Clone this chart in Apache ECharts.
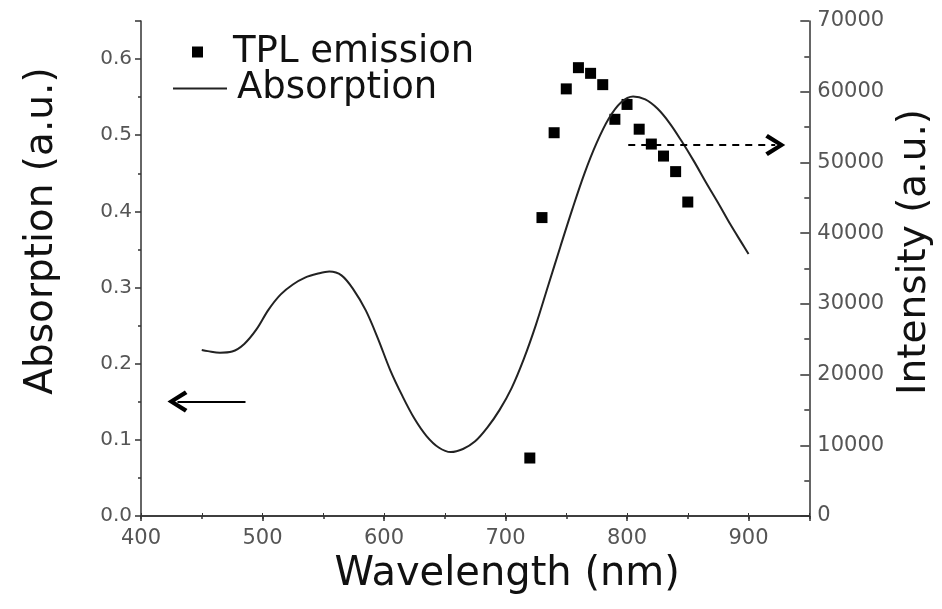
<!DOCTYPE html>
<html>
<head>
<meta charset="utf-8">
<script src="https://cdn.jsdelivr.net/npm/echarts@6/dist/echarts.min.js"></script>
<style>html,body{margin:0;padding:0;background:#fff}#c{width:942px;height:609px}</style>
</head>
<body>
<div id="c"></div>
<script>
// ---- data ----
const tplWavelength = [720, 730, 740, 750, 760, 770, 780, 790, 800, 810, 820, 830, 840, 850];
const tplIntensity = [8200, 42200, 54200, 60400, 63400, 62600, 61000, 56100, 58200, 54700, 52600, 50900, 48700, 44400];
const absWavelength = [450, 455, 465, 475, 485, 495, 505, 515, 525, 535, 545, 555, 565, 575, 585, 595, 605, 615, 625, 635, 645, 655, 665, 675, 685, 695, 705, 715, 725, 735, 745, 755, 765, 775, 785, 795, 805, 815, 825, 835, 845, 855, 865, 875, 885, 895, 900];
const absValue = [0.218, 0.2165, 0.2145, 0.216, 0.226, 0.245, 0.271, 0.291, 0.304, 0.313, 0.318, 0.321, 0.316, 0.297, 0.270, 0.233, 0.192, 0.158, 0.128, 0.105, 0.090, 0.084, 0.088, 0.098, 0.116, 0.139, 0.168, 0.206, 0.251, 0.302, 0.353, 0.403, 0.450, 0.490, 0.522, 0.543, 0.551, 0.547, 0.535, 0.516, 0.492, 0.466, 0.438, 0.411, 0.383, 0.357, 0.344];
const xTickLabels = [400, 500, 600, 700, 800, 900];
const leftTickLabels = ['0.0', '0.1', '0.2', '0.3', '0.4', '0.5', '0.6'];
const rightTickLabels = ['0', '10000', '20000', '30000', '40000', '50000', '60000', '70000'];
// annotation arrows (data coordinates)
const leftArrow = [[486, 0.1505], [430, 0.1505]];
const rightArrow = [[801, 52450], [922, 52450]];

const font = 'DejaVu Sans';
const axisColor = '#333';
const labelColor = '#555';
const chevron = 'path://M11,0 L22,17 L18.5,19.5 L11,7.5 L3.5,19.5 L0,17 Z';

const hidden = {show: false};
function tickOnlyAxis(base) {
  return Object.assign({type: 'value', axisLine: hidden, axisLabel: hidden, splitLine: hidden}, base);
}

const chart = echarts.init(document.getElementById('c'), null, {renderer: 'canvas'});
chart.setOption({
  animation: false,
  backgroundColor: '#fff',
  grid: {left: 141, right: 128, top: 21, bottom: 93, containLabel: false},
  legend: [
    {
      data: [{name: 'TPL emission', icon: 'rect'}],
      left: 192, top: 27, padding: 0, itemWidth: 11, itemHeight: 11,
      selectedMode: false,
      textStyle: {fontFamily: font, fontSize: 37, color: '#111', lineHeight: 40, padding: [0, 0, 10, 25]}
    },
    {
      data: [{name: 'Absorption', icon: 'rect', itemStyle: {color: '#222'}}],
      left: 173, top: 62, padding: 0, itemWidth: 54, itemHeight: 2,
      selectedMode: false,
      textStyle: {fontFamily: font, fontSize: 37, color: '#111', lineHeight: 40, padding: [0, 0, 13, 5]}
    }
  ],
  xAxis: [
    {
      type: 'value', min: 400, max: 950, interval: 100, position: 'bottom',
      name: 'Wavelength (nm)', nameLocation: 'middle', nameGap: 39,
      nameTextStyle: {fontFamily: font, fontSize: 40, color: '#111', padding: [0, 0, 0, 64]},
      axisLine: {lineStyle: {color: axisColor, width: 1.5}},
      axisTick: {length: 5, lineStyle: {color: axisColor, width: 1.5}},
      axisLabel: {
        fontFamily: font, fontSize: 21, color: labelColor, margin: 12,
        formatter: v => xTickLabels.indexOf(v) >= 0 ? String(v) : ''
      },
      splitLine: hidden
    },
    {
      type: 'value', min: 400, max: 950, interval: 50, position: 'top',
      axisLine: {lineStyle: {color: axisColor, width: 1.5}},
      axisTick: {length: 3, lineStyle: {color: axisColor, width: 1}},
      axisLabel: hidden,
      splitLine: hidden
    },
    tickOnlyAxis({
      min: 400, max: 950, interval: 50, position: 'bottom',
      axisTick: {length: 3, lineStyle: {color: axisColor, width: 1.5}}
    })
  ],
  yAxis: [
    {
      type: 'value', min: 0, max: 0.65, interval: 0.1, position: 'left',
      name: 'Absorption (a.u.)', nameLocation: 'middle', nameGap: 80,
      nameTextStyle: {fontFamily: font, fontSize: 39, color: '#111', padding: [0, 0, 0, 75]},
      axisLine: {show: true, lineStyle: {color: axisColor, width: 1.5}},
      axisTick: {show: true, length: 6, lineStyle: {color: axisColor, width: 1.5}},
      axisLabel: {
        fontFamily: font, fontSize: 20, color: labelColor, margin: 9,
        formatter: v => {
          const k = Math.round(v * 100);
          return (k % 10 === 0 && k <= 60) ? leftTickLabels[k / 10] : '';
        }
      },
      splitLine: hidden
    },
    {
      type: 'value', min: 0, max: 70000, interval: 10000, position: 'right',
      name: 'Intensity (a.u.)', nameLocation: 'middle', nameGap: 76,
      nameTextStyle: {fontFamily: font, fontSize: 39, color: '#111', padding: [0, 0, 0, 33]},
      axisLine: {show: true, lineStyle: {color: axisColor, width: 1.5}},
      axisTick: {show: true, inside: true, length: 9, lineStyle: {color: axisColor, width: 1.5}},
      axisLabel: {
        fontFamily: font, fontSize: 21, color: labelColor, margin: 8,
        formatter: v => (v % 10000 === 0) ? rightTickLabels[v / 10000] : ''
      },
      splitLine: hidden
    },
    tickOnlyAxis({
      min: 0, max: 0.65, interval: 0.05, position: 'left',
      axisTick: {show: true, length: 3, lineStyle: {color: axisColor, width: 1.5}}
    }),
    tickOnlyAxis({
      min: 0, max: 70000, interval: 5000, position: 'right',
      axisTick: {show: true, inside: true, length: 5, lineStyle: {color: axisColor, width: 1.5}}
    })
  ],
  series: [
    {
      name: 'TPL emission', type: 'scatter', xAxisIndex: 0, yAxisIndex: 1,
      symbol: 'rect', symbolSize: 11,
      itemStyle: {color: '#000', opacity: 1},
      data: tplWavelength.map((w, i) => [w, tplIntensity[i]]),
      markLine: {
        silent: true, animation: false,
        symbol: ['none', chevron], symbolSize: [22, 20],
        label: {show: false},
        lineStyle: {color: '#000', width: 2, type: [7, 6], opacity: 1},
        emphasis: {disabled: true},
        data: [[{coord: rightArrow[0]}, {coord: rightArrow[1]}]]
      }
    },
    {
      name: 'Absorption', type: 'line', xAxisIndex: 0, yAxisIndex: 0,
      smooth: 0.35, symbol: 'none', showSymbol: false,
      lineStyle: {color: '#222', width: 2},
      itemStyle: {color: '#222'},
      data: absWavelength.map((w, i) => [w, absValue[i]]),
      markLine: {
        silent: true, animation: false,
        symbol: ['none', chevron], symbolSize: [22, 20],
        label: {show: false},
        lineStyle: {color: '#000', width: 2, type: 'solid', opacity: 1},
        emphasis: {disabled: true},
        data: [[{coord: leftArrow[0]}, {coord: leftArrow[1]}]]
      }
    }
  ]
});
</script>
</body>
</html>
